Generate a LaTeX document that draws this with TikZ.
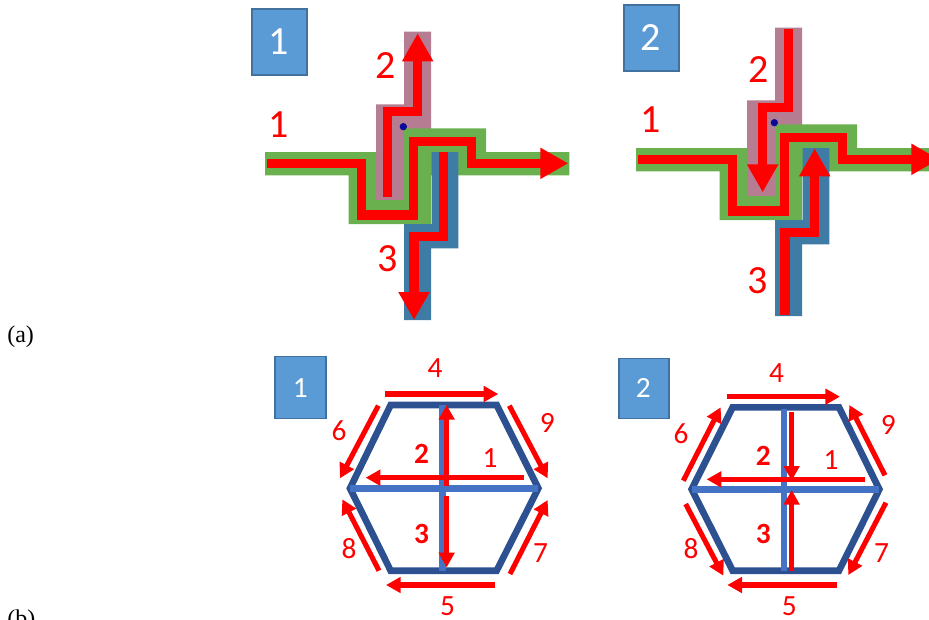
\documentclass[tikz,border=0pt]{standalone}
\usepackage{fontspec}
\setmainfont{Liberation Serif}
\newfontfamily\calib{Carlito}
\usetikzlibrary{arrows.meta}
\definecolor{bandgreen}{HTML}{6AB04F}
\definecolor{bandpink}{HTML}{B57C92}
\definecolor{bandblue}{HTML}{3F7CA5}
\definecolor{boxfill}{HTML}{5B9BD5}
\definecolor{boxline}{HTML}{41719C}
\definecolor{hexouter}{HTML}{2D5090}
\definecolor{hexcross}{HTML}{4472C4}
\definecolor{viaDot}{HTML}{0A0A96}
\tikzset{
  numboxdraw/.style={draw=boxline,line width=0.9pt,fill=boxfill},
  bignum/.style={text=white,inner sep=0pt,font=\calib\fontsize{30}{30}\selectfont},
  smallnum/.style={text=white,inner sep=0pt,font=\calib\fontsize{22}{22}\selectfont},
  biglabel/.style={text=red,inner sep=0pt,font=\calib\fontsize{30}{30}\selectfont},
  smalllabel/.style={text=red,inner sep=0pt,font=\calib\fontsize{22}{22}\selectfont},
  boldlabel/.style={text=red,inner sep=0pt,font=\calib\bfseries\fontsize{22}{22}\selectfont},
  caption/.style={inner sep=0pt,font=\fontsize{18}{18}\selectfont},
  wire/.style={draw=red,line width=7.1pt,miter limit=10},
  wirearrow/.style={wire,-{Triangle[length=21pt,width=22pt]}},
  hexside/.style={draw=hexouter,line width=5pt,line join=miter},
  hexbar/.style={draw=hexcross,line width=4.8pt},
  flow/.style={draw=red,line width=3.8pt,-{Triangle[length=11pt,width=11.5pt]}},
  panelunits/.style={x=0.25pt,y=-0.25pt},
}
\newcommand{\crossbands}{%
  \fill[bandpink] (462,95) -- (543,95) -- (543,400) -- (462,400) -- (462,600) -- (378,600) -- (378,313) -- (462,313) -- cycle;
  \fill[bandgreen] (45,456) -- (378,456) -- (378,600) -- (462,600) -- (462,385) -- (708,385) -- (708,456) -- (958,456) -- (958,526) -- (543,526) -- (543,672) -- (296,672) -- (296,526) -- (45,526) -- cycle;
  \fill[bandblue] (545,456) -- (625,456) -- (625,745) -- (543,745) -- (543,960) -- (462,960) -- (462,672) -- (545,672) -- cycle;
  \fill[viaDot] (460,380) circle[radius=11];
  \draw[wirearrow] (50,490) -- (335,490) -- (335,645) -- (490,645) -- (490,425) -- (665,425) -- (665,490) -- (955,490);
}
\begin{document}
\begin{tikzpicture}[x=0.75pt,y=-0.75pt]
\useasboundingbox (0,0) rectangle (929,619);
\begin{scope}
\clip (0,0) rectangle (929,619);

\node[caption,anchor=west] (capA) at (7,337) {(a)};
\node[caption,anchor=west] (capB) at (7,621) {(b)};

% panel a-1
\draw[numboxdraw] (252,9) rectangle (307,75);
\node[bignum] (boxA) at (279,42) {1};
\begin{scope}[shift={(250,0)},panelunits]
  \crossbands
  \draw[wirearrow] (413,590) -- (413,335) -- (503,335) -- (503,100);
  \draw[wirearrow] (581,456) -- (581,710) -- (492,710) -- (492,960);
  \node[biglabel] (aOneA) at (87,375) {1};
  \node[biglabel] (aOneB) at (408,198) {2};
  \node[biglabel] (aOneC) at (412,775) {3};
\end{scope}

% panel a-2
\draw[numboxdraw] (624,5) rectangle (679,71);
\node[bignum] (boxB) at (651,38) {2};
\begin{scope}[shift={(621,-4)},panelunits]
  \crossbands
  \draw[wirearrow] (502,100) -- (502,334) -- (425,334) -- (425,589);
  \draw[wirearrow] (492,957) -- (492,710) -- (581,710) -- (581,457);
  \node[biglabel] (aTwoA) at (89,372) {1};
  \node[biglabel] (aTwoB) at (412,222) {2};
  \node[biglabel] (aTwoC) at (410,854) {3};
\end{scope}

% panel b-1
\begin{scope}[shift={(270,350)},panelunits]
  \draw[numboxdraw] (15,20) rectangle (168,205);
  \node[smallnum] (boxC) at (91,113) {1};
  \draw[hexside] (362,165) -- (680,165) -- (805,415) -- (680,662) -- (362,662) -- (240,415) -- cycle;
  \draw[hexbar] (517,165) -- (517,662);
  \draw[hexbar] (240,415) -- (805,415);
  \draw[flow] (345,132) -- (685,132);
  \draw[flow] (675,705) -- (348,705);
  \draw[flow] (325,167) -- (210,385);
  \draw[flow] (718,167) -- (833,385);
  \draw[flow] (327,662) -- (217,448);
  \draw[flow] (720,672) -- (833,450);
  \draw[flow] (762,383) -- (287,383);
  \draw[flow] (530,408) -- (530,165);
  \draw[flow] (530,438) -- (530,652);
  \node[smalllabel] (bOne4) at (495,55) {4};
  \node[smalllabel] (bOne6) at (207,243) {6};
  \node[smalllabel] (bOne9) at (832,218) {9};
  \node[boldlabel] (bOne2) at (455,312) {2};
  \node[smalllabel] (bOne1) at (660,325) {1};
  \node[boldlabel] (bOne3) at (455,552) {3};
  \node[smalllabel] (bOne8) at (237,595) {8};
  \node[smalllabel] (bOne7) at (812,608) {7};
  \node[smalllabel] (bOne5) at (533,768) {5};
\end{scope}

% panel b-2
\begin{scope}[shift={(610,350)},panelunits]
  \draw[numboxdraw] (27,25) rectangle (177,205);
  \node[smallnum] (boxD) at (100,115) {2};
  \draw[hexside] (368,172) -- (687,172) -- (808,418) -- (687,662) -- (368,662) -- (245,418) -- cycle;
  \draw[hexbar] (522,178) -- (522,662);
  \draw[hexbar] (245,418) -- (808,418);
  \draw[flow] (350,140) -- (690,140);
  \draw[flow] (680,705) -- (352,705);
  \draw[flow] (220,392) -- (332,172);
  \draw[flow] (825,376) -- (718,165);
  \draw[flow] (227,462) -- (340,677);
  \draw[flow] (828,458) -- (715,675);
  \draw[flow] (765,388) -- (290,388);
  \draw[flow] (545,185) -- (545,392);
  \draw[flow] (545,662) -- (545,420);
  \node[smalllabel] (bTwo4) at (500,68) {4};
  \node[smalllabel] (bTwo6) at (213,250) {6};
  \node[smalllabel] (bTwo9) at (835,225) {9};
  \node[boldlabel] (bTwo2) at (460,318) {2};
  \node[smalllabel] (bTwo1) at (663,330) {1};
  \node[boldlabel] (bTwo3) at (460,552) {3};
  \node[smalllabel] (bTwo8) at (243,597) {8};
  \node[smalllabel] (bTwo7) at (815,610) {7};
  \node[smalllabel] (bTwo5) at (538,768) {5};
\end{scope}
\end{scope}
\end{tikzpicture}
\end{document}
